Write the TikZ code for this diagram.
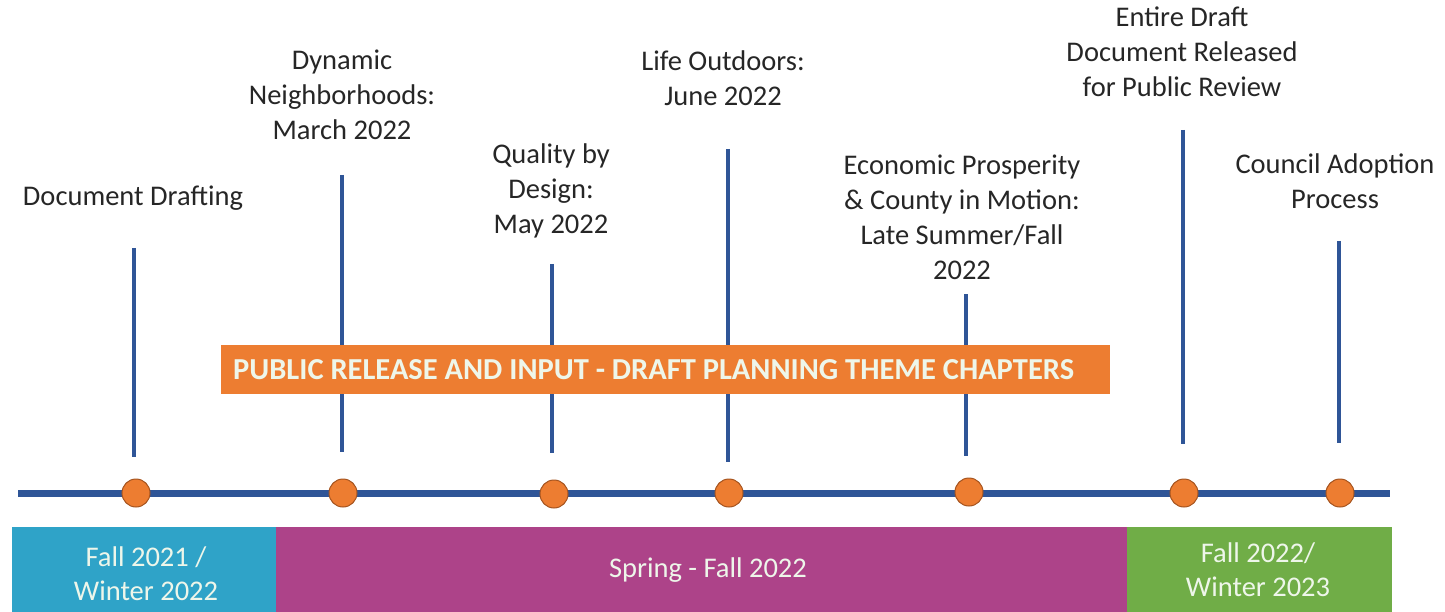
\documentclass[tikz,border=0pt]{standalone}
\usepackage{fontspec}
\setmainfont{Carlito}
\definecolor{lineblue}{HTML}{2F5597}
\definecolor{dotorange}{HTML}{ED7D31}
\definecolor{dotborder}{HTML}{A5541F}
\definecolor{bannerorange}{HTML}{ED7D31}
\definecolor{barblue}{HTML}{2FA3C8}
\definecolor{barmagenta}{HTML}{AD4389}
\definecolor{bargreen}{HTML}{70AD47}
\definecolor{bartext}{HTML}{EEF6EA}
\definecolor{lbltext}{HTML}{262626}
\begin{document}
\begin{tikzpicture}[x=1pt,y=-1pt,
  vline/.style={draw=lineblue, line width=4pt},
  mainline/.style={draw=lineblue, line width=7pt},
  dot/.style={circle, fill=dotorange, draw=dotborder, line width=1pt, minimum size=28pt, inner sep=0pt},
  lbl/.style={font=\fontsize{28.5}{35}\selectfont, align=center, text=lbltext, inner sep=0pt},
  bar/.style={anchor=north west, minimum height=85pt, inner sep=0pt},
  bartxt/.style={font=\fontsize{28.5}{34}\selectfont, text=bartext, align=center, inner sep=0pt},
  banner/.style={anchor=north west, fill=bannerorange, minimum width=889pt, minimum height=49pt, inner sep=0pt},
  bannertxt/.style={font=\bfseries\fontsize{30.5}{34}\selectfont, text=bartext, anchor=west, inner sep=0pt}
]
\useasboundingbox (0,0) rectangle (1445,612);
% vertical lines
\coordinate (t1) at (134,248); \coordinate (b1) at (134,457);
\coordinate (t2) at (342,175); \coordinate (b2) at (342,452);
\coordinate (t3) at (552,264); \coordinate (b3) at (552,453);
\coordinate (t4) at (728,149); \coordinate (b4) at (728,462);
\coordinate (t5) at (966,294); \coordinate (b5) at (966,456);
\coordinate (t6) at (1183,130); \coordinate (b6) at (1183,444);
\coordinate (t7) at (1339,241); \coordinate (b7) at (1339,443);
\foreach \i in {1,...,7} {\draw[vline] (t\i) -- (b\i);}
% banner
\node[banner] (banner) at (221,345) {};
\node[bannertxt] (bannertext) at (233,370) {PUBLIC RELEASE AND INPUT - DRAFT PLANNING THEME CHAPTERS};
% main line
\coordinate (L) at (18,493); \coordinate (R) at (1390,493);
\draw[mainline] (L) -- (R);
% dots
\node[dot] (d1) at (136,493) {};
\node[dot] (d2) at (343,493) {};
\node[dot] (d3) at (554,494) {};
\node[dot] (d4) at (729,493) {};
\node[dot] (d5) at (969,492) {};
\node[dot] (d6) at (1184,493) {};
\node[dot] (d7) at (1340,493) {};
% labels
\node[lbl] (l1) at (133,198) {Document Drafting};
\node[lbl] (l2) at (342,95) {Dynamic\\Neighborhoods:\\March 2022};
\node[lbl] (l3) at (551,191) {Quality by\\Design:\\May 2022};
\node[lbl] (l4) at (723,78) {Life Outdoors:\\June 2022};
\node[lbl] (l5) at (962,217) {Economic Prosperity\\\& County in Motion:\\Late Summer/Fall\\2022};
\node[lbl] (l6) at (1182,52) {Entire Draft\\Document Released\\for Public Review};
\node[lbl] (l7) at (1335,181) {Council Adoption\\Process};
% bars
\node[bar, fill=barblue, minimum width=264pt] (p1) at (12,527) {};
\node[bar, fill=barmagenta, minimum width=851pt] (p2) at (276,527) {};
\node[bar, fill=bargreen, minimum width=265pt] (p3) at (1127,527) {};
\node[bartxt] (pt1) at (146,574) {Fall 2021 /\\Winter 2022};
\node[bartxt] (pt2) at (708,570) {Spring - Fall 2022};
\node[bartxt] (pt3) at (1258,570) {Fall 2022/\\Winter 2023};
\end{tikzpicture}
\end{document}
